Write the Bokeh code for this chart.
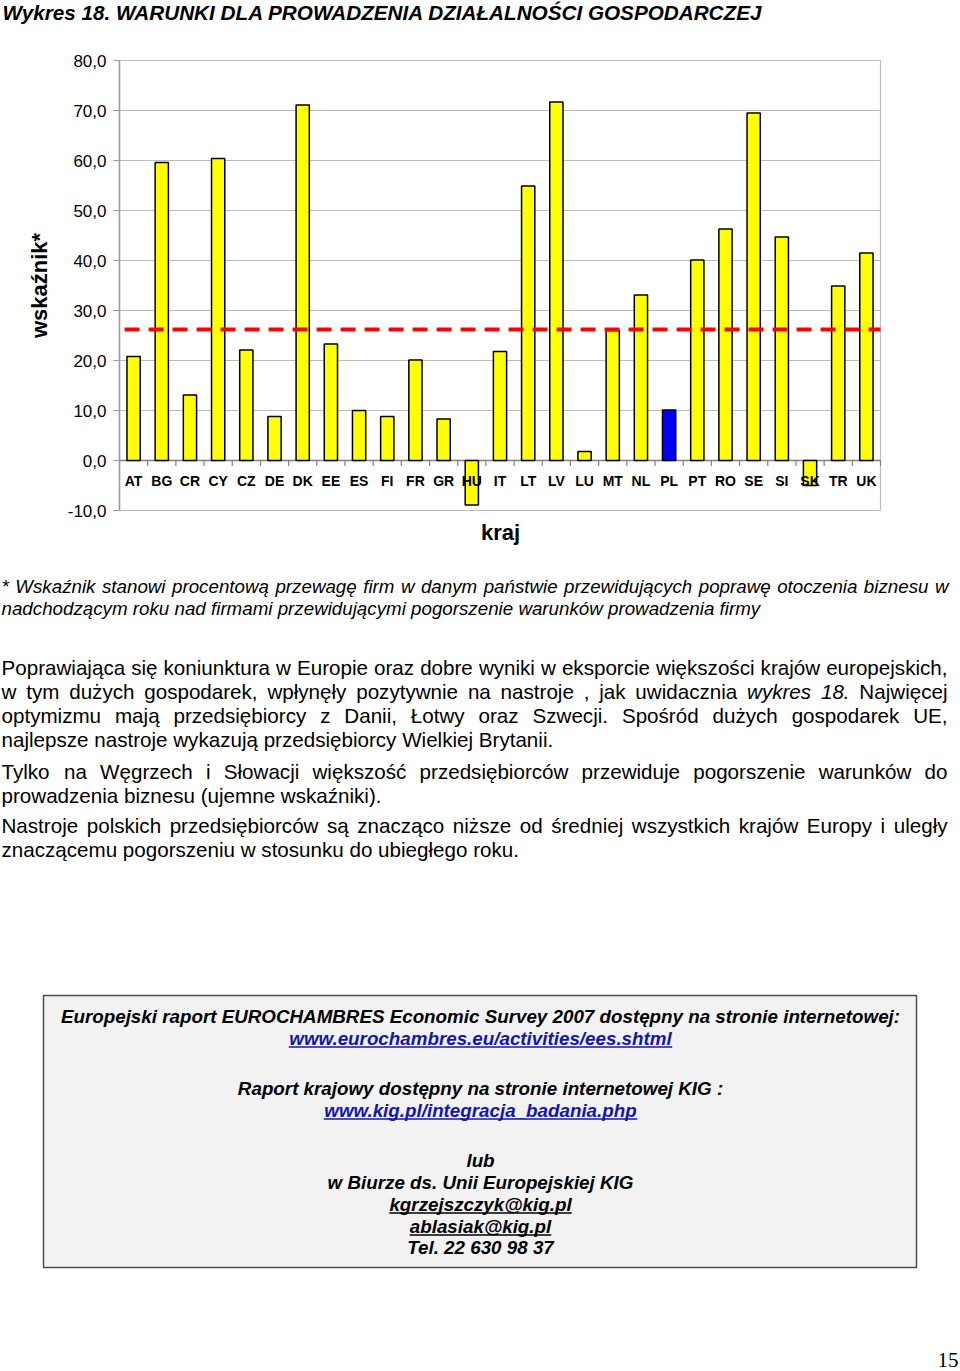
from bokeh.plotting import figure
from bokeh.models import Range1d, FixedTicker, ColumnDataSource, LinearAxis
from bokeh.core.properties import value
from bokeh.embed import file_html
from bokeh.resources import INLINE

# ---------------- data ----------------
countries = ["AT", "BG", "CR", "CY", "CZ", "DE", "DK", "EE", "ES", "FI", "FR", "GR", "HU", "IT",
             "LT", "LV", "LU", "MT", "NL", "PL", "PT", "RO", "SE", "SI", "SK", "TR", "UK"]
indicator = [20.8, 59.6, 13.1, 60.4, 22.1, 8.8, 71.1, 23.3, 10.0, 8.8, 20.1, 8.3, -8.9, 21.8,
             54.9, 71.7, 1.8, 26.0, 33.1, 10.1, 40.1, 46.3, 69.5, 44.7, -5.0, 34.9, 41.5]
eu_average = 26.2
highlight = "PL"
y_ticks = [-10, 0, 10, 20, 30, 40, 50, 60, 70, 80]

title_text = "Wykres 18. WARUNKI DLA PROWADZENIA DZIAŁALNOŚCI GOSPODARCZEJ"
y_label = "wskaźnik*"
x_label = "kraj"

FONT = "Liberation Sans"

# ---------------- text metrics (Arial / Liberation Sans) ----------------
REG = {' ': 278, ',': 278, '-': 333, '.': 278, '/': 278, ':': 278, '(': 333, ')': 333, '*': 389,
       '@': 1015, '_': 556,
       'A': 667, 'B': 667, 'C': 722, 'D': 722, 'E': 667, 'F': 611, 'G': 778, 'H': 722, 'I': 278,
       'J': 500, 'K': 667, 'L': 556, 'M': 833, 'N': 722, 'O': 778, 'P': 667, 'Q': 778, 'R': 722,
       'S': 667, 'T': 611, 'U': 722, 'V': 667, 'W': 944, 'X': 667, 'Y': 667, 'Z': 611,
       'a': 556, 'b': 556, 'c': 500, 'd': 556, 'e': 556, 'f': 278, 'g': 556, 'h': 556, 'i': 222,
       'j': 222, 'k': 500, 'l': 222, 'm': 833, 'n': 556, 'o': 556, 'p': 556, 'q': 556, 'r': 333,
       's': 500, 't': 278, 'u': 556, 'v': 500, 'w': 722, 'x': 500, 'y': 500, 'z': 500}
BOLD = {' ': 278, ',': 278, '-': 333, '.': 278, '/': 278, ':': 333, '(': 333, ')': 333, '*': 389,
        '@': 975, '_': 556,
        'A': 722, 'B': 722, 'C': 722, 'D': 722, 'E': 667, 'F': 611, 'G': 778, 'H': 722, 'I': 278,
        'J': 556, 'K': 722, 'L': 611, 'M': 833, 'N': 722, 'O': 778, 'P': 667, 'Q': 778, 'R': 722,
        'S': 667, 'T': 611, 'U': 722, 'V': 667, 'W': 944, 'X': 667, 'Y': 667, 'Z': 611,
        'a': 556, 'b': 611, 'c': 556, 'd': 611, 'e': 556, 'f': 333, 'g': 611, 'h': 611, 'i': 278,
        'j': 278, 'k': 556, 'l': 278, 'm': 889, 'n': 611, 'o': 611, 'p': 611, 'q': 611, 'r': 389,
        's': 556, 't': 333, 'u': 611, 'v': 556, 'w': 778, 'x': 556, 'y': 556, 'z': 500}
ACC = {'ą': 'a', 'ę': 'e', 'ć': 'c', 'ł': 'l', 'ń': 'n', 'ó': 'o', 'ś': 's', 'ź': 'z', 'ż': 'z',
       'Ł': 'L', 'Ś': 'S', 'Ż': 'Z', 'Ź': 'Z', 'Ć': 'C', 'Ą': 'A', 'Ę': 'E', 'Ó': 'O', 'Ń': 'N'}
for d in range(10):
    REG[str(d)] = 556
    BOLD[str(d)] = 556


def text_width(s, fs, table):
    return sum(table.get(ACC.get(ch, ch), 556) for ch in s) * fs / 1000.0


# ---------------- page texts ----------------
footnote_lines = [
    "* Wskaźnik stanowi procentową przewagę firm w danym państwie przewidujących poprawę otoczenia biznesu w",
    "nadchodzącym roku nad firmami przewidującymi pogorszenie warunków prowadzenia firmy",
]
para1_lines = [
    "Poprawiająca się koniunktura w Europie oraz dobre wyniki w eksporcie większości krajów europejskich,",
    "w tym dużych gospodarek, wpłynęły pozytywnie na nastroje , jak uwidacznia wykres 18. Najwięcej",
    "optymizmu mają przedsiębiorcy z Danii, Łotwy oraz Szwecji. Spośród dużych gospodarek UE,",
    "najlepsze nastroje wykazują przedsiębiorcy Wielkiej Brytanii.",
]
italic_words_p1 = ["wykres", "18."]
para2_lines = [
    "Tylko na Węgrzech i Słowacji większość przedsiębiorców przewiduje pogorszenie warunków do",
    "prowadzenia biznesu (ujemne wskaźniki).",
]
para3_lines = [
    "Nastroje polskich przedsiębiorców są znacząco niższe od średniej wszystkich krajów Europy i uległy",
    "znaczącemu pogorszeniu w stosunku do ubiegłego roku.",
]
box_lines = [
    ("Europejski raport EUROCHAMBRES Economic Survey 2007 dostępny na stronie internetowej:", "text"),
    ("www.eurochambres.eu/activities/ees.shtml", "link"),
    ("Raport krajowy dostępny na stronie internetowej KIG :", "text"),
    ("www.kig.pl/integracja_badania.php", "link"),
    ("lub", "text"),
    ("w Biurze ds. Unii Europejskiej KIG", "text"),
    ("kgrzejszczyk@kig.pl", "mail"),
    ("ablasiak@kig.pl", "mail"),
    ("Tel. 22 630 98 37", "text"),
]
page_number = "15"

# ---------------- page figure (frame = whole page, page-pixel coordinates) ----------------
PAGE_W, PAGE_H = 960, 1371
F_LEFT, F_RIGHT, F_TOP, F_BOTTOM = 119, 880, 60, 510   # chart plot area on the page

p = figure(width=PAGE_W, height=PAGE_H, x_range=Range1d(0, PAGE_W), y_range=Range1d(PAGE_H, 0),
           x_axis_type=None, y_axis_type=None, toolbar_location=None, output_backend="svg",
           title=None, min_border=0, outline_line_color=None)

# chart coordinate system placed on the page
n = len(countries)
x_lo, x_hi = 0.5, n + 0.5
y_lo, y_hi = y_ticks[0], y_ticks[-1]
kx = (F_RIGHT - F_LEFT) / (x_hi - x_lo)
ky = (F_BOTTOM - F_TOP) / (y_hi - y_lo)
p.extra_x_ranges = {"cx": Range1d(x_lo - F_LEFT / kx, x_hi + (PAGE_W - F_RIGHT) / kx)}
p.extra_y_ranges = {"cy": Range1d(y_lo - (PAGE_H - F_BOTTOM) / ky, y_hi + F_TOP / ky)}
C = dict(x_range_name="cx", y_range_name="cy")

xs = list(range(1, n + 1))
colors = ["#0000ff" if c == highlight else "#ffff00" for c in countries]
src = ColumnDataSource(dict(x=xs, val=indicator, cat=countries, color=colors))

# plot-area frame and horizontal grid
GRID = "#bdbdbd"
p.segment(x0=[x_lo] * len(y_ticks), y0=y_ticks, x1=[x_hi] * len(y_ticks), y1=y_ticks,
          line_color=GRID, line_width=1, **C)
p.quad(left=[x_lo], right=[x_hi], bottom=[y_lo], top=[y_hi], fill_color=None,
       line_color=GRID, line_width=1.2, **C)

# zero line with category boundary ticks
bx = [i + 0.5 for i in range(n + 1)]
p.segment(x0=bx, y0=[0] * len(bx), x1=bx, y1=[-1.1] * len(bx), line_color="#808080",
          line_width=1.2, **C)
p.segment(x0=[x_lo], y0=[0], x1=[x_hi], y1=[0], line_color="#808080", line_width=1.5, **C)

# bars
p.vbar(x="x", top="val", bottom=0, width=0.47, fill_color="color", line_color="black",
       line_width=1.5, source=src, **C)

# EU average
p.segment(x0=[x_lo + 0.18], y0=[eu_average], x1=[x_hi], y1=[eu_average], line_color="#ff0000",
          line_width=4, line_dash="15 9", **C)

# category labels
p.text(x="x", y=0, text="cat", source=src, text_font=value(FONT), text_font_size="14px",
       text_font_style="bold", text_color="black", text_align="center", text_baseline="middle",
       y_offset=20, **C)

# y axis placed at the left edge of the chart area
ax = LinearAxis(x_range_name="cx", y_range_name="cy", fixed_location=x_lo, bounds=(y_lo, y_hi),
                ticker=FixedTicker(ticks=y_ticks))
ax.major_label_overrides = {t: f"{t:.1f}".replace(".", ",") for t in y_ticks}
ax.major_label_text_font = FONT
ax.major_label_text_font_size = "17px"
ax.major_label_text_color = "black"
ax.major_tick_out = 6
ax.major_tick_in = 0
ax.minor_tick_line_color = None
ax.major_tick_line_color = "#9a9a9a"
ax.axis_line_color = "#9a9a9a"
ax.axis_line_width = 1.5
ax.major_label_standoff = 7
ax.axis_label = y_label
ax.axis_label_text_font = FONT
ax.axis_label_text_font_size = "22px"
ax.axis_label_text_font_style = "bold"
ax.axis_label_text_color = "black"
ax.axis_label_standoff = 13
p.add_layout(ax, "left")


# ---------------- page texts (y = vertical centre of the line) ----------------
def put(x, y, s, fs, style="normal", align="left", color="black", font=FONT):
    p.text(x=[x], y=[y], text=[s], text_font=value(font), text_font_size=f"{fs}px",
           text_font_style=style, text_color=color, text_align=align, text_baseline="middle")


def put_justified(line, x0, x1, y, fs, style="normal", italic_words=()):
    words = line.split(" ")
    table = BOLD if "bold" in style else REG
    widths = [text_width(w, fs, table) for w in words]
    gap = (x1 - x0 - sum(widths)) / (len(words) - 1)
    x = x0
    for w, wd in zip(words, widths):
        st = "italic" if (w in italic_words and style == "normal") else style
        put(x, y, w, fs, st)
        x += wd + gap


# title
put(2, 11.5, title_text, 20.7, "bold italic")
# x axis title
put(500, 532, x_label, 22, "bold", "center")

# footnote
FN = 18.75
put_justified(footnote_lines[0], 1, 948, 586, FN, "italic")
put(1, 608, footnote_lines[1], FN, "italic")

BODY = 20.6
RIGHT = 947
y0 = 667
for i, ln in enumerate(para1_lines):
    if i < len(para1_lines) - 1:
        put_justified(ln, 1, RIGHT, y0 + 24 * i, BODY, "normal", italic_words_p1)
    else:
        put(1, y0 + 24 * i, ln, BODY)
y0 = 771
put_justified(para2_lines[0], 1, RIGHT, y0, BODY)
put(1, y0 + 24, para2_lines[1], BODY)
y0 = 825
put_justified(para3_lines[0], 1, RIGHT, y0, BODY)
put(1, y0 + 24, para3_lines[1], BODY)

# information box
p.quad(left=[43], right=[916], top=[995], bottom=[1267], fill_color="#f2f2f2",
       line_color="#4d4d4d", line_width=1.5)
BOX = 18.8
box_centres = [1016, 1038, 1088, 1110, 1160, 1182, 1204, 1226, 1247]
for (s, kind), yc in zip(box_lines, box_centres):
    col = "#1414b4" if kind == "link" else "black"
    put(480, yc, s, BOX, "bold italic", "center", col)
    if kind in ("link", "mail"):
        w = text_width(s, BOX, BOLD)
        p.segment(x0=[480 - w / 2], y0=[yc + 8.5], x1=[480 + w / 2], y1=[yc + 8.5],
                  line_color=col, line_width=1.5)

# page number
put(958, 1359, page_number, 21, "normal", "right", "black", "Liberation Serif")

open("out.html", "w").write(file_html(p, INLINE))
